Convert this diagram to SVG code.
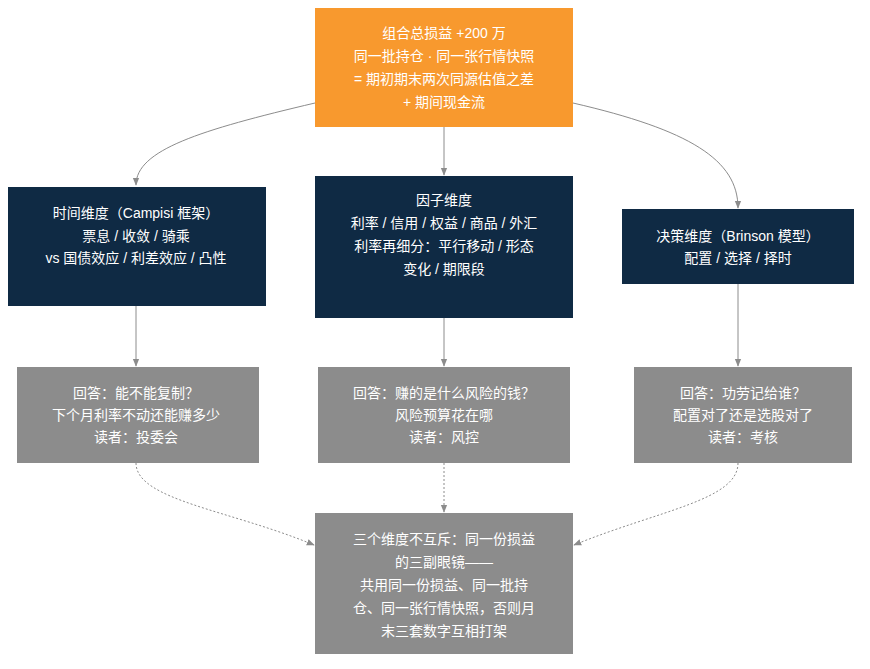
<svg xmlns="http://www.w3.org/2000/svg" width="870" height="669" viewBox="0 0 870 669">
<style>
text{font-family:"Liberation Sans","Noto Sans CJK SC",sans-serif;font-size:14px;fill:#fff;text-anchor:middle}
.c{fill:none;stroke:#8c8c8c;stroke-width:1}
.d{stroke-dasharray:2 2}
</style>
<defs><marker id="a" viewBox="0 0 10 10" refX="9" refY="5" markerWidth="8" markerHeight="8" orient="auto"><path d="M0,1 L10,5 L0,9 z" fill="#8c8c8c"/></marker></defs>
<rect width="870" height="669" fill="#fff"/>
<g id="connectors">
<path class="c" d="M315,103 C200,130 136,150 136,185" marker-end="url(#a)"/>
<path class="c" d="M444,127 L444,175" marker-end="url(#a)"/>
<path class="c" d="M573,103 C690,130 738,160 738,208" marker-end="url(#a)"/>
<path class="c" d="M136,306 L136,366" marker-end="url(#a)"/>
<path class="c" d="M444,318 L444,366" marker-end="url(#a)"/>
<path class="c" d="M738,284 L738,366" marker-end="url(#a)"/>
<path class="c d" d="M136,463 C136,500 230,510 314,545" marker-end="url(#a)"/>
<path class="c d" d="M444,463 L444,512" marker-end="url(#a)"/>
<path class="c d" d="M738,463 C738,500 660,510 574,545" marker-end="url(#a)"/>
</g>
<g id="top"><rect x="315" y="8" width="258" height="119" fill="#f8992e"/>
<text x="444" y="38">组合总损益 +200 万</text><text x="444" y="61">同一批持仓 · 同一张行情快照</text><text x="444" y="84">= 期初期末两次同源估值之差</text><text x="444" y="107">+ 期间现金流</text></g>
<g id="time"><rect x="8" y="187" width="258" height="119" fill="#0f2a44"/>
<text x="136" y="218">时间维度（Campisi 框架）</text><text x="136" y="241">票息 / 收敛 / 骑乘</text><text x="136" y="263">vs 国债效应 / 利差效应 / 凸性</text></g>
<g id="factor"><rect x="315" y="176" width="258" height="142" fill="#0f2a44"/>
<text x="444" y="205">因子维度</text><text x="444" y="228">利率 / 信用 / 权益 / 商品 / 外汇</text><text x="444" y="251">利率再细分：平行移动 / 形态</text><text x="444" y="274">变化 / 期限段</text></g>
<g id="decision"><rect x="622" y="209" width="232" height="75" fill="#0f2a44"/>
<text x="738" y="241">决策维度（Brinson 模型）</text><text x="738" y="263">配置 / 选择 / 择时</text></g>
<g id="a1"><rect x="17" y="367" width="242" height="96" fill="#8c8c8c"/>
<text x="136" y="398">回答：能不能复制？</text><text x="136" y="420">下个月利率不动还能赚多少</text><text x="136" y="442">读者：投委会</text></g>
<g id="a2"><rect x="318" y="367" width="252" height="96" fill="#8c8c8c"/>
<text x="444" y="398">回答：赚的是什么风险的钱？</text><text x="444" y="420">风险预算花在哪</text><text x="444" y="442">读者：风控</text></g>
<g id="a3"><rect x="634" y="367" width="218" height="96" fill="#8c8c8c"/>
<text x="743" y="398">回答：功劳记给谁？</text><text x="743" y="420">配置对了还是选股对了</text><text x="743" y="442">读者：考核</text></g>
<g id="bottom"><rect x="315" y="513" width="258" height="141" fill="#8c8c8c"/>
<text x="444" y="544">三个维度不互斥：同一份损益</text><text x="444" y="567">的三副眼镜——</text><text x="444" y="590">共用同一份损益、同一批持</text><text x="444" y="613">仓、同一张行情快照，否则月</text><text x="444" y="636">末三套数字互相打架</text></g>
</svg>
